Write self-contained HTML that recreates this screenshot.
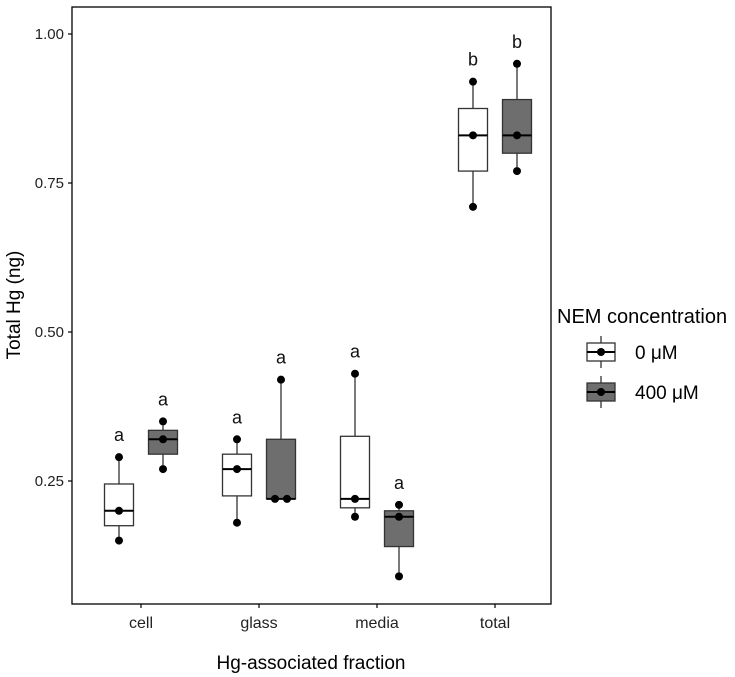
<!DOCTYPE html>
<html><head><meta charset="utf-8"><style>
html,body{margin:0;padding:0;background:#fff}
svg{display:block;font-family:"Liberation Sans",Arial,sans-serif}
</style></head><body>
<svg id="chart" width="735" height="677" viewBox="0 0 735 677" xmlns="http://www.w3.org/2000/svg"></svg>
<script>
const categories = ["cell","glass","media","total"];
const groups = ["0 μM","400 μM"];
const groupFill = ["#ffffff","#6e6e6e"];
const pts0 = [[0.29,0.20,0.15],[0.32,0.27,0.18],[0.43,0.22,0.19],[0.92,0.83,0.71]];
const pts400 = [[0.35,0.32,0.27],[0.42,0.22,0.22],[0.21,0.19,0.09],[0.95,0.83,0.77]];
const letters0 = ["a","a","a","b"];
const letters400 = ["a","a","a","b"];
const yTicks = [0.25,0.50,0.75,1.00];
const yTickLabels = ["0.25","0.50","0.75","1.00"];

const NS="http://www.w3.org/2000/svg";
const svg=document.getElementById('chart');
function mk(t,a,p){const e=document.createElementNS(NS,t);for(const k in a)e.setAttribute(k,a[k]);(p||svg).appendChild(e);return e;}
const P={l:72,r:551,t:7,b:604};
function y(v){return 481-(v-0.25)*596;}
function xc(i){return 141+i*118;}
function xg(i,g){return xc(i)+(g===0?-22:22);}
function quant(a,q){const s=[...a].sort((m,n)=>m-n);const p=(s.length-1)*q;const lo=Math.floor(p),hi=Math.ceil(p);return s[lo]+(s[hi]-s[lo])*(p-lo);}

const panel=mk('rect',{x:P.l,y:P.t,width:P.r-P.l,height:P.b-P.t,fill:'none',stroke:'#000','stroke-width':1.3});



yTicks.forEach((v,i)=>{
  const tk=mk('line',{x1:P.l-4,x2:P.l,y1:y(v),y2:y(v),stroke:'#000','stroke-width':1.2});
  
  
  const t=mk('text',{x:P.l-8,y:y(v)+5,'text-anchor':'end','font-size':15,fill:'#222'});
  t.textContent=yTickLabels[i];
  
  
});
categories.forEach((c,i)=>{
  const tk=mk('line',{x1:xc(i),x2:xc(i),y1:P.b,y2:P.b+4,stroke:'#000','stroke-width':1.2});
  
  
  const t=mk('text',{x:xc(i),y:628,'text-anchor':'middle','font-size':16,fill:'#222'});
  t.textContent=c;
  
  
});

const all=[pts0,pts400], lets=[letters0,letters400];
categories.forEach((c,i)=>{
  [0,1].forEach(g=>{
    const d=all[g][i], x=xg(i,g), w=29;
    const q1=quant(d,0.25),q3=quant(d,0.75),md=quant(d,0.5),mn=Math.min(...d),mx=Math.max(...d);
    const grp=mk('g',{});
    
    
    mk('line',{x1:x,x2:x,y1:y(mx),y2:y(q3),stroke:'#333','stroke-width':1.3},grp);
    mk('line',{x1:x,x2:x,y1:y(q1),y2:y(mn),stroke:'#333','stroke-width':1.3},grp);
    mk('rect',{x:x-w/2,y:y(q3),width:w,height:y(q1)-y(q3),fill:groupFill[g],stroke:'#333','stroke-width':1.3},grp);
    mk('line',{x1:x-w/2,x2:x+w/2,y1:y(md),y2:y(md),stroke:'#000','stroke-width':2},grp);
    const seen={};
    d.forEach(v=>{
      const k=v.toFixed(3);seen[k]=(seen[k]||0)+1;
      const cnt=d.filter(u=>u.toFixed(3)===k).length;
      const off=cnt>1?(seen[k]-1-(cnt-1)/2)*12:0;
      const p=mk('circle',{cx:x+off,cy:y(v),r:4,fill:'#000'},grp);
      
      
    });
    const t=mk('text',{x:x,y:y(mx)-16,'text-anchor':'middle','font-size':18,fill:'#111'},grp);
    t.textContent=lets[g][i];
  });
});

const yt=mk('text',{x:0,y:0,transform:'translate(20,305) rotate(-90)','text-anchor':'middle','font-size':19,fill:'#000'});
yt.textContent='Total Hg (ng)';


const xt=mk('text',{x:311,y:669,'text-anchor':'middle','font-size':19,fill:'#000'});
xt.textContent='Hg-associated fraction';



const lg=mk('g',{});


const lt=mk('text',{x:557,y:323,'font-size':20,fill:'#000'},lg);
lt.textContent='NEM concentration';
groups.forEach((n,g)=>{
  const cy=352+g*40;
  const e=mk('g',{},lg);
  
  
  mk('line',{x1:601,x2:601,y1:cy-16,y2:cy+16,stroke:'#333','stroke-width':1.3},e);
  mk('rect',{x:587,y:cy-9,width:28,height:18,fill:groupFill[g],stroke:'#333','stroke-width':1.3},e);
  mk('line',{x1:587,x2:615,y1:cy,y2:cy,stroke:'#000','stroke-width':2},e);
  mk('circle',{cx:601,cy:cy,r:4,fill:'#000'},e);
  const t=mk('text',{x:635,y:cy+7,'font-size':19,fill:'#000'},e);
  t.textContent=n;
});
</script>
</body></html>
